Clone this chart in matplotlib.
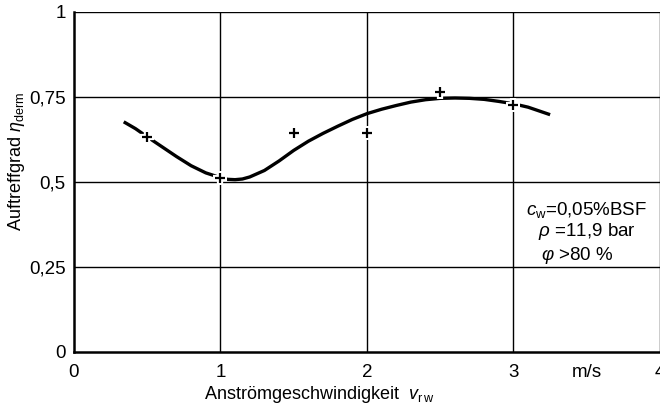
import matplotlib.pyplot as plt

plt.rcParams['font.family'] = ['Liberation Sans', 'DejaVu Sans']
plt.rcParams['mathtext.fontset'] = 'custom'
plt.rcParams['mathtext.rm'] = 'Liberation Sans'
plt.rcParams['mathtext.it'] = 'Liberation Sans:italic'

# Data
meas_v = [0.5, 1.0, 1.5, 2.0, 2.5, 3.0]
meas_eta = [0.632, 0.510, 0.644, 0.644, 0.763, 0.726]

curve_v = [0.34, 0.42, 0.5, 0.6, 0.7, 0.8, 0.9, 1.0, 1.05, 1.1, 1.15, 1.2, 1.3, 1.4,
           1.5, 1.6, 1.7, 1.8, 1.9, 2.0, 2.1, 2.2, 2.3, 2.4, 2.5, 2.6, 2.7, 2.8,
           2.9, 3.0, 3.1, 3.25]
curve_eta = [0.676, 0.656, 0.632, 0.603, 0.574, 0.547, 0.526, 0.512, 0.507, 0.506,
             0.508, 0.514, 0.533, 0.561, 0.592, 0.619, 0.642, 0.663, 0.683, 0.700,
             0.713, 0.724, 0.734, 0.741, 0.745, 0.746, 0.745, 0.742, 0.736, 0.729,
             0.719, 0.697]

x_ticks = [0, 1, 2, 3, 4]
y_ticks = [0, 0.25, 0.5, 0.75, 1]
y_labels = ['0', '0,25', '0,5', '0,75', '1']

fig = plt.figure(figsize=(6.6, 4.13), dpi=100)
ax = fig.add_axes([0.112, 0.148, 0.888, 0.824])

ax.set_xlim(0, 4)
ax.set_ylim(0, 1)

# grid
for xv in x_ticks[1:]:
    ax.axvline(xv, color='black', lw=1.0, zorder=1)
for yv in y_ticks[1:]:
    ax.axhline(yv, color='black', lw=1.0, zorder=1)

# fitted curve
ax.plot(curve_v, curve_eta, color='black', lw=2.4, solid_capstyle='butt',
        solid_joinstyle='round', zorder=3)

# measured points with white halo
ax.plot(meas_v, meas_eta, linestyle='none', marker='+', ms=10, mew=4.5,
        color='white', zorder=4)
ax.plot(meas_v, meas_eta, linestyle='none', marker='+', ms=7, mew=1.6,
        color='black', zorder=5)

for side in ['top', 'right']:
    ax.spines[side].set_visible(False)
ax.spines['left'].set_linewidth(1.8)
ax.spines['bottom'].set_linewidth(1.8)

ax.set_xticks(x_ticks)
ax.set_xticklabels(['0', '1', '2', '3', '4'])
ax.set_yticks(y_ticks)
ax.set_yticklabels(y_labels)
ax.tick_params(length=0, labelsize=13.5, pad=6)
ax.tick_params(axis='x', pad=9)

ax.text(3.5, -0.035, 'm/s', ha='center', va='top', fontsize=13.5)

ax.set_ylabel(r'Auftreffgrad $\eta_{\mathrm{derm}}$', fontsize=13)
ax.yaxis.set_label_coords(-0.08, 0.56)

ax.text(1.67, -0.095, r'Anströmgeschwindigkeit  $v_{\mathrm{r\,w}}$',
        ha='center', va='top', fontsize=13)

ax.text(3.085, 0.417, r'$c_{\mathrm{w}}$=0,05%BSF', ha='left', va='center', fontsize=13.5)
ax.text(3.17, 0.353, r'$\rho$ =11,9 bar', ha='left', va='center', fontsize=13.5)
ax.text(3.19, 0.284, r'$\varphi$ >80 %', ha='left', va='center', fontsize=13.5)

fig.savefig('out.png', dpi=100)
